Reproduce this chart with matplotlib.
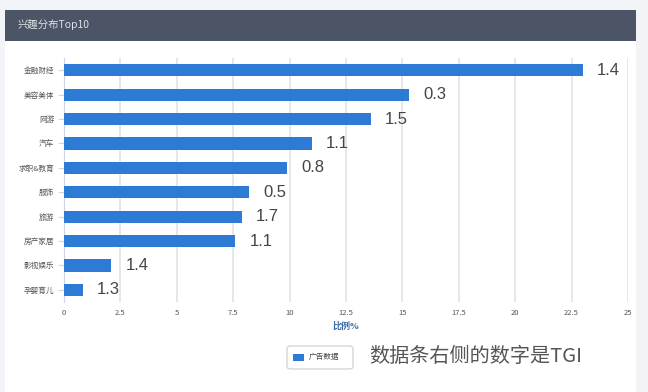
import matplotlib
matplotlib.use("Agg")
import matplotlib.pyplot as plt
from matplotlib.patches import Rectangle, FancyBboxPatch

plt.rcParams['font.family'] = ['Noto Sans CJK SC', 'DejaVu Sans']

categories = ['金融财经', '美容美体', '网游', '汽车', '求职&教育', '服饰', '旅游', '房产家居', '影视娱乐', '孕婴育儿']
values = [23.0, 15.3, 13.6, 11.0, 9.9, 8.2, 7.9, 7.6, 2.1, 0.85]
tgi = ['1.4', '0.3', '1.5', '1.1', '0.8', '0.5', '1.7', '1.1', '1.4', '1.3']
xticks = [0, 2.5, 5, 7.5, 10, 12.5, 15, 17.5, 20, 22.5, 25]
xtick_labels = ['0', '2.5', '5', '7.5', '10', '12.5', '15', '17.5', '20', '22.5', '25']
title = '兴趣分布Top10'
xlabel = '比例%'
legend_label = '广告数据'
note = '数据条右侧的数字是TGI'

W, H = 648, 392
fig = plt.figure(figsize=(W / 100, H / 100), dpi=100)
fig.patch.set_facecolor('#f3f4f8')

# white panel and header
fig.patches.append(Rectangle((5 / W, 0), 631 / W, (H - 41) / H, transform=fig.transFigure,
                             facecolor='white', edgecolor='none', zorder=0))
fig.patches.append(Rectangle((5 / W, (H - 41) / H), 631 / W, 31 / H, transform=fig.transFigure,
                             facecolor='#4b5566', edgecolor='none', zorder=0))
fig.text(18 / W, (H - 25) / H, title, color='#dfe2e7', fontsize=7.5, va='center', ha='left')

ax = fig.add_axes([64 / W, (H - 302) / H, (628 - 64) / W, (302 - 58) / H])
ax.set_zorder(5)
ax.set_facecolor('none')
y = list(range(len(categories)))
ax.barh(y, values, height=0.5, color='#2e7bd6', zorder=3)
ax.set_ylim(len(categories) - 0.5, -0.5)
ax.set_xlim(0, 25)
ax.set_yticks(y)
ax.set_yticklabels(categories, fontsize=5.5, color='#555555')
ax.set_xticks(xticks)
ax.set_xticklabels(xtick_labels, fontsize=5.5, color='#555555')
ax.grid(axis='x', color='#e3e3e3', linewidth=1.2, zorder=0)
for s in ['top', 'right', 'bottom']:
    ax.spines[s].set_visible(False)
ax.spines['left'].set_color('#ccd6eb')
ax.tick_params(axis='y', length=4, color='#ccd6eb', pad=3)
ax.tick_params(axis='x', length=0, pad=5)
ax.set_xlabel(xlabel, fontsize=6.5, color='#3d6da6', fontweight='bold', labelpad=3)

for yi, v, t in zip(y, values, tgi):
    ax.annotate(t, (v, yi), xytext=(10, 0), textcoords='offset points',
                va='center', ha='left', fontsize=12, color='#444444',
                family=['Liberation Sans', 'DejaVu Sans'])

# legend box
fig.patches.append(FancyBboxPatch((287 / W, (H - 369) / H), 66 / W, 23 / H,
                                  boxstyle='round,pad=0,rounding_size=0.006',
                                  transform=fig.transFigure, facecolor='white',
                                  edgecolor='#cccccc', linewidth=0.8, zorder=1))
fig.patches.append(Rectangle((293 / W, (H - 361) / H), 11 / W, 7 / H, transform=fig.transFigure,
                             facecolor='#2e7bd6', edgecolor='none', zorder=2))
fig.text(309 / W, (H - 357) / H, legend_label, fontsize=5.5, color='#444444', va='center', ha='left')
fig.text(369 / W, (H - 356) / H, note, fontsize=14.5, color='#555555', va='center', ha='left')

fig.savefig('out.png', dpi=100, facecolor=fig.get_facecolor())
